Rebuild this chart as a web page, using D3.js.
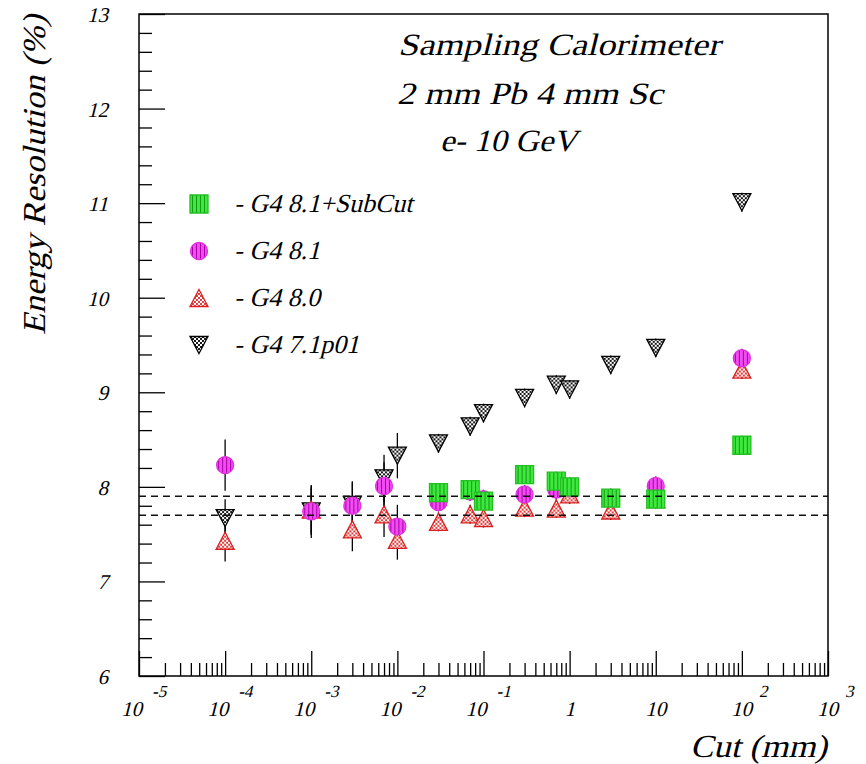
<!DOCTYPE html>
<html>
<head>
<meta charset="utf-8">
<script src="https://cdn.jsdelivr.net/npm/d3@7"></script>
<style>
  body { margin: 0; background: #fff; }
</style>
</head>
<body>
<div id="fig"></div>
<script>
// cut values in mm
const cuts = [1e-4, 1e-3, 3e-3, 7e-3, 1e-2, 3e-2, 7e-2, 0.1, 0.3, 0.7, 1, 3, 10, 100];
const cutsSub = [3e-2, 7e-2, 0.1, 0.3, 0.7, 1, 3, 10, 100];

// energy resolution (%)
const g47 = [7.67, 7.74, 7.81, 8.09, 8.33, 8.46, 8.64, 8.78, 8.94, 9.08, 9.03, 9.29, 9.47, 11.01];
const g47Err = [0.2, 0.25, 0.25, 0.25, 0.24, 0.1, 0.1, 0.1, 0.1, 0.1, 0.1, 0.1, 0.1, 0.1];
const g480 = [7.43, 7.76, 7.55, 7.71, 7.44, 7.63, 7.71, 7.67, 7.78, 7.77, 7.92, 7.75, 7.87, 9.24];
const g480Err = [0.22, 0.25, 0.23, 0.24, 0.21, 0.1, 0.1, 0.1, 0.1, 0.1, 0.1, 0.1, 0.1, 0.1];
const g481 = [8.23, 7.74, 7.80, 8.01, 7.58, 7.84, 7.95, 7.87, 7.92, 7.97, 7.99, 7.88, 8.01, 9.36];
const g481Err = [0.27, 0.28, 0.25, 0.25, 0.23, 0.1, 0.1, 0.1, 0.1, 0.1, 0.1, 0.1, 0.1, 0.1];
const g481sub = [7.94, 7.97, 7.85, 8.13, 8.06, 8.00, 7.88, 7.87, 8.44];
const g481subErr = [0.1, 0.1, 0.1, 0.1, 0.1, 0.1, 0.1, 0.1, 0.1];

const refLines = [7.9, 7.7];
const yTicks = [6, 7, 8, 9, 10, 11, 12, 13];
const xExps = [-5, -4, -3, -2, -1, 0, 1, 2, 3];
const legendNames = ["- G4 8.1+SubCut", "- G4 8.1", "- G4 8.0", "- G4 7.1p01"];
const titleLines = ["Sampling Calorimeter", "2 mm Pb 4 mm Sc", "e- 10 GeV"];

function main() {
  const svg = d3.select("#fig").append("svg")
      .attr("width", 866)
      .attr("height", 764)
      .attr("font-family", "'Liberation Serif', 'DejaVu Serif', serif")
      .attr("font-style", "normal");

  const x = d3.scaleLog().domain([1e-5, 1e3]).range([139, 828]);
  const y = d3.scaleLinear().domain([6, 13]).range([676, 14]);

  // slanted text helper (upright serif sheared to look italic)
  const slant = "skewX(-14)";

  // hatch patterns
  const defs = svg.append("defs");
  const pg = defs.append("pattern").attr("id", "pG").attr("patternUnits", "userSpaceOnUse")
      .attr("width", 4).attr("height", 4);
  pg.append("rect").attr("width", 4).attr("height", 4).attr("fill", "#3ee83e");
  pg.append("rect").attr("x", 1).attr("width", 1).attr("height", 4).attr("fill", "#149a14");
  const pm = defs.append("pattern").attr("id", "pM").attr("patternUnits", "userSpaceOnUse")
      .attr("width", 4).attr("height", 4);
  pm.append("rect").attr("width", 4).attr("height", 4).attr("fill", "#f04cf0");
  pm.append("rect").attr("x", 1).attr("width", 1).attr("height", 4).attr("fill", "#a800a8");
  function cross(id, col) {
    const p = defs.append("pattern").attr("id", id).attr("patternUnits", "userSpaceOnUse")
        .attr("width", 4).attr("height", 4);
    p.append("rect").attr("width", 4).attr("height", 4).attr("fill", "#fff");
    p.append("path").attr("d", "M-1,1L1,-1M0,4L4,0M3,5L5,3M-1,3L1,5M0,0L4,4M3,-1L5,1")
        .attr("stroke", col).attr("stroke-width", 0.9);
  }
  cross("pR", "#e02828");
  cross("pK", "#000");

  // marker shapes
  const shapes = {
    square: "M-9,-9H9V9H-9Z",
    circle: "M-8.5,0A8.5,8.5 0 1,0 8.5,0A8.5,8.5 0 1,0 -8.5,0Z",
    up: "M0,-8.5L9,8.5H-9Z",
    down: "M0,8.5L9,-8.5H-9Z"
  };

  const series = [
    { name: legendNames[3], cut: cuts, val: g47, err: g47Err, shape: "down", fill: "url(#pK)", stroke: "#000" },
    { name: legendNames[2], cut: cuts, val: g480, err: g480Err, shape: "up", fill: "url(#pR)", stroke: "#d82020" },
    { name: legendNames[1], cut: cuts, val: g481, err: g481Err, shape: "circle", fill: "url(#pM)", stroke: "#e030e0" },
    { name: legendNames[0], cut: cutsSub, val: g481sub, err: g481subErr, shape: "square", fill: "url(#pG)", stroke: "#22c022" }
  ];

  // axes, ticks pointing inward
  const minorY = d3.range(60, 131, 2).map(d => d / 10).filter(d => d % 1 !== 0);
  svg.append("g").attr("transform", "translate(139,0)")
      .call(d3.axisRight(y).tickValues(yTicks).tickSize(26).tickFormat(""));
  svg.append("g").attr("transform", "translate(139,0)")
      .call(d3.axisRight(y).tickValues(minorY).tickSize(13).tickFormat(""));

  const majorX = xExps.map(e => Math.pow(10, e));
  const minorX = [];
  xExps.slice(0, -1).forEach(e => d3.range(2, 10).forEach(k => minorX.push(k * Math.pow(10, e))));
  svg.append("g").attr("transform", "translate(0,676)")
      .call(d3.axisTop(x).tickValues(majorX).tickSize(25).tickFormat(""));
  svg.append("g").attr("transform", "translate(0,676)")
      .call(d3.axisTop(x).tickValues(minorX).tickSize(13).tickFormat(""));
  svg.selectAll(".domain").remove();
  svg.selectAll(".tick line").attr("stroke", "#000").attr("stroke-width", 1.3);

  svg.append("rect")
      .attr("x", 139).attr("y", 14).attr("width", 689).attr("height", 662)
      .attr("fill", "none").attr("stroke", "#000").attr("stroke-width", 1.5);

  // writes a sheared text whose anchor stays at (px, py)
  function label(parent, px, py, str, size, anchor, len) {
    const t = parent.append("text")
        .attr("transform", `translate(${px},${py}) ${slant}`)
        .attr("font-size", size)
        .attr("text-anchor", anchor || "start")
        .text(str);
    if (len) t.attr("textLength", len).attr("lengthAdjust", "spacingAndGlyphs");
    return t;
  }

  // y tick labels
  const yl = svg.append("g");
  yTicks.forEach(d => label(yl, 108, y(d) + 8, d, 21, "end"));

  // x tick labels
  const xl = svg.append("g");
  xExps.forEach(e => {
    const t = x(Math.pow(10, e));
    if (e === 0 || e === 1) {
      label(xl, t, 716, e === 0 ? "1" : "10", 21, "middle");
    } else {
      const off = e < 0 ? 3 : 10;
      label(xl, t + off, 716, "10", 21, "end");
      label(xl, t + off + (e < 0 ? 10 : 7), 697, e < 0 ? "-" + (-e) : e, 17);
    }
  });

  // axis titles
  svg.append("text")
      .attr("transform", "translate(45,15) rotate(-90) " + slant)
      .attr("text-anchor", "end").attr("font-size", 32)
      .attr("textLength", 320).attr("lengthAdjust", "spacingAndGlyphs")
      .text("Energy Resolution (%)");
  label(svg, 827, 757, "Cut (mm)", 32, "end", 137);

  // title block
  const tx = [398, 397, 440], ty = [55, 104, 151], tl = [322, 266, 137];
  const tg = svg.append("g");
  titleLines.forEach((d, i) => label(tg, tx[i], ty[i], d, 31, "start", tl[i]));

  // error bars then markers
  series.forEach(s => {
    const pts = s.cut.map((c, i) => ({ c: c, v: s.val[i], e: s.err[i] }));
    svg.append("g").selectAll("line").data(pts).join("line")
        .attr("x1", d => x(d.c)).attr("x2", d => x(d.c))
        .attr("y1", d => y(d.v - d.e)).attr("y2", d => y(d.v + d.e))
        .attr("stroke", "#000").attr("stroke-width", 1.3);
  });
  series.forEach(s => {
    const pts = s.cut.map((c, i) => ({ c: c, v: s.val[i] }));
    svg.append("g").selectAll("path").data(pts).join("path")
        .attr("transform", d => `translate(${x(d.c)},${y(d.v)})`)
        .attr("d", shapes[s.shape])
        .attr("fill", s.fill).attr("stroke", s.stroke).attr("stroke-width", 1.3);
  });

  // reference dashed lines
  svg.append("g").selectAll("line").data(refLines).join("line")
      .attr("x1", 139).attr("x2", 828)
      .attr("y1", d => y(d)).attr("y2", d => y(d))
      .attr("stroke", "#111").attr("stroke-width", 1.4).attr("stroke-dasharray", "7,5");

  // legend
  const legRows = [series[3], series[2], series[1], series[0]];
  legRows.forEach((s, i) => {
    const cy = 204 + i * 47;
    svg.append("path").attr("transform", `translate(199,${cy})`).attr("d", shapes[s.shape])
        .attr("fill", s.fill).attr("stroke", s.stroke).attr("stroke-width", 1.3);
    label(svg, 234, cy + 8, s.name, 26);
  });
}

main();
</script>
</body>
</html>
